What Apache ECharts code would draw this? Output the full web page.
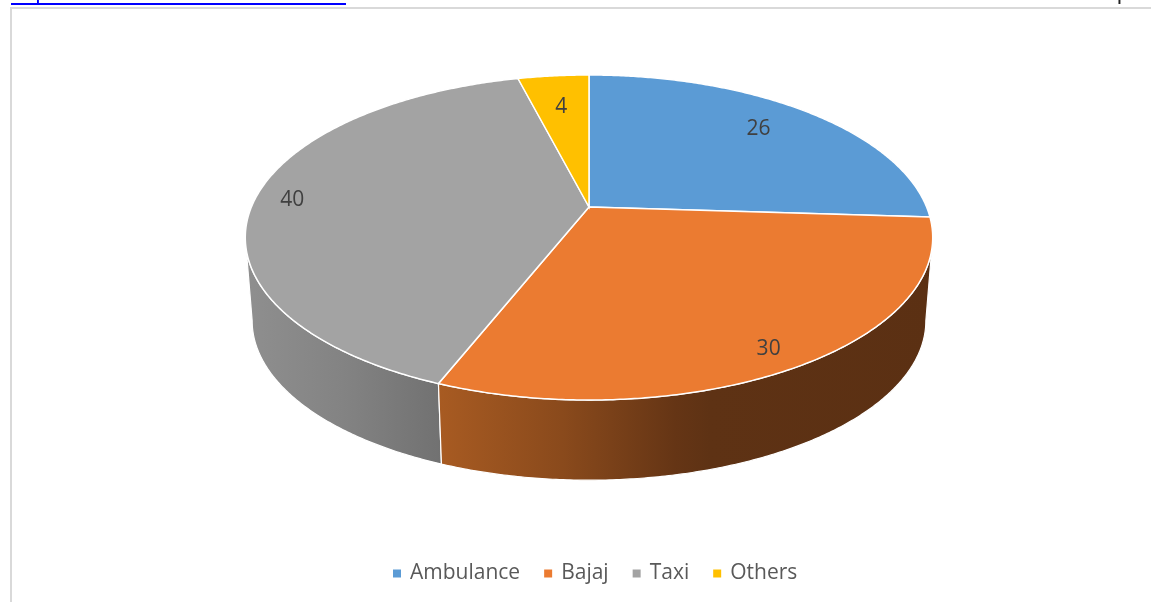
<!DOCTYPE html>
<html><head><meta charset="utf-8">
<style>html,body{margin:0;padding:0;background:#fff}#c{width:1151px;height:602px}</style>
<script src="https://cdn.jsdelivr.net/npm/echarts@6/dist/echarts.min.js"></script>
</head><body><div id="c"></div>
<script>
const categories = ['Ambulance', 'Bajaj', 'Taxi', 'Others'];
const values = [26, 30, 40, 4];
const colors = ['#5B9BD5', '#EB7B31', '#A3A3A3', '#FFC000'];

// perspective model of the pie disc
const CX = 589, CY = 207, A = 337.6, B = 156.8, K = 0.1877;
const DEPTH = 84, BOTTOM_SCALE = 0.98;
const FONT = '"Open Sans", sans-serif';
const LABEL_DROP = 2;
const labelRadius = [0.79, 0.89, 0.89, 0.75];
const labelTurn = [-2.2, 1.6, 0.1, 0];
const wallStops = [
  [[0, '#5b3013'], [1, '#5b3013']],
  [[0, '#a85b22'], [0.25, '#8a4a1c'], [0.48, '#653515'], [0.55, '#5e3214'], [1, '#5b3013']],
  [[0, '#8f8f8f'], [0.5, '#838383'], [1, '#717171']],
  [[0, '#7a5c00'], [1, '#7a5c00']]
];

const total = values.reduce((a, b) => a + b, 0);
const starts = [];
values.reduce((acc, v, i) => { starts[i] = acc; return acc + v; }, 0);
const rad = v => v / total * Math.PI * 2;
// the wall is visible only between the two silhouette angles of the disc
const FOLD_R = Math.acos(-K), FOLD_L = Math.PI * 2 - FOLD_R;

function project(theta, r, lower) {
  const u = Math.sin(theta) * r, w = -Math.cos(theta) * r, d = 1 - K * w;
  const s = lower ? BOTTOM_SCALE : 1;
  return [CX + s * A * u / d, CY + (lower ? DEPTH : 0) + s * B * w / d];
}
function arc(a0, a1, lower) {
  const n = Math.max(2, Math.ceil((a1 - a0) / (Math.PI / 360))), pts = [];
  for (let i = 0; i <= n; i++) pts.push(project(a0 + (a1 - a0) * i / n, 1, lower));
  return pts;
}
function polygon(points, style, z2) {
  return { type: 'polygon', shape: { points }, style, z2, silent: true };
}
const wallItem = i => () => {
  const a0 = Math.max(rad(starts[i]), FOLD_R), a1 = Math.min(rad(starts[i] + values[i]), FOLD_L);
  if (a1 <= a0) return null;
  const pts = arc(a0, a1, false).concat(arc(a0, a1, true).reverse());
  return polygon(pts, {
    fill: { type: 'linear', x: 0, y: 0, x2: 1, y2: 0, colorStops: wallStops[i].map(s => ({ offset: s[0], color: s[1] })) },
    stroke: '#ffffff', lineWidth: 1.2
  }, 1);
};
const topItem = i => () => {
  const a0 = rad(starts[i]), a1 = rad(starts[i] + values[i]);
  const pts = [project(0, 0, false)].concat(arc(a0, a1, false));
  const mid = (a0 + a1) / 2 + labelTurn[i] * Math.PI / 180;
  const at = project(mid, labelRadius[i], false);
  return {
    type: 'group', children: [
      polygon(pts, { fill: colors[i], stroke: '#ffffff', lineWidth: 1.5 }, 2),
      { type: 'text', z2: 3, silent: true, style: {
          x: at[0], y: at[1] + LABEL_DROP, text: String(values[i]), align: 'center', verticalAlign: 'middle',
          fill: '#404040', font: '21px ' + FONT } }
    ]
  };
};
const mk = (i, renderItem, z) => ({
  type: 'custom', name: categories[i], coordinateSystem: 'none', z, silent: true,
  itemStyle: { color: colors[i] }, data: [values[i]], renderItem
});
const order = [0, 3, 2, 1];

const chart = echarts.init(document.getElementById('c'), null, { renderer: 'canvas' });
chart.setOption({
  animation: false,
  backgroundColor: '#fff',
  legend: {
    data: categories, left: 388, top: 558, icon: 'rect', itemWidth: 8, itemHeight: 8, itemGap: 24,
    selectedMode: false,
    textStyle: { fontFamily: FONT, fontSize: 21, color: '#595959', padding: [0, 0, 0, 4] }
  },
  graphic: [
    { type: 'rect', shape: { x: 11, y: 3, width: 335, height: 2 }, style: { fill: '#0000ff' }, silent: true },
    { type: 'rect', shape: { x: 11, y: 7, width: 1140, height: 2 }, style: { fill: '#d9d9d9' }, silent: true },
    { type: 'rect', shape: { x: 10, y: 7, width: 2, height: 595 }, style: { fill: '#d9d9d9' }, silent: true },
    { type: 'text', silent: true, style: { x: 11, y: -18, text: 'https://', fill: '#0000ff', font: '22px "Liberation Sans", sans-serif' } },
    { type: 'text', silent: true, style: { x: 1100, y: -18, text: 'Ope', fill: '#222', font: '22px "Liberation Sans", sans-serif' } }
  ],
  series: order.map(i => mk(i, wallItem(i), 1)).concat(categories.map((c, i) => mk(i, topItem(i), 2)))
});
</script></body></html>
